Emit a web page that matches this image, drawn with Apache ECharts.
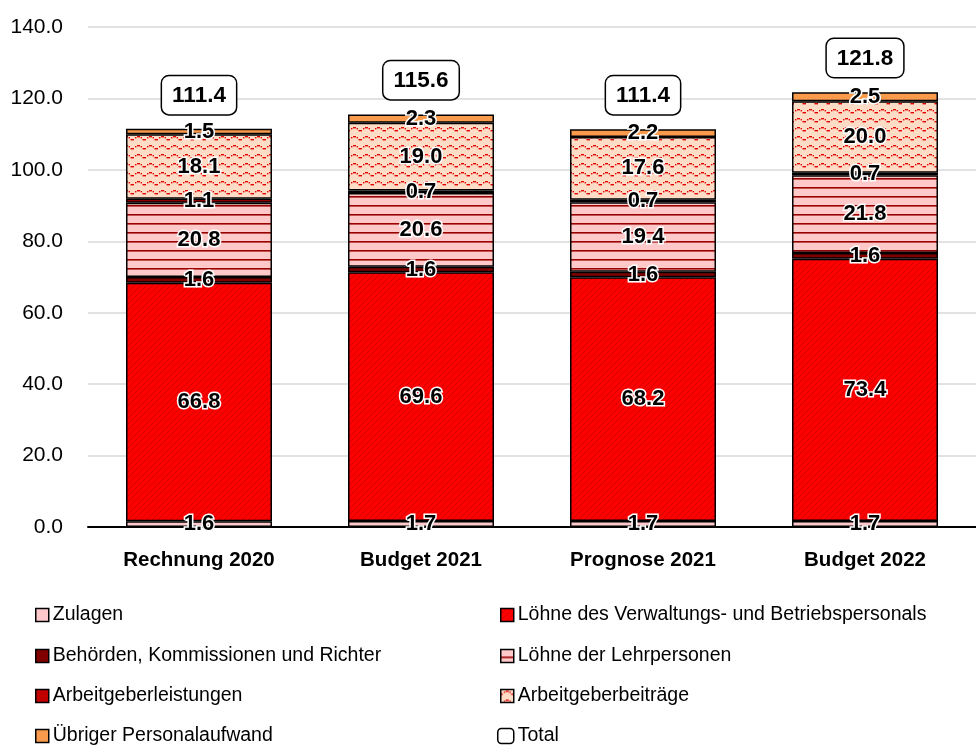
<!DOCTYPE html>
<html><head><meta charset="utf-8">
<script src="https://cdn.jsdelivr.net/npm/echarts@6.0.0/dist/echarts.min.js"></script>
<style>html,body{margin:0;padding:0;background:#fff}#c{width:976px;height:745px}</style>
</head><body><div id="c"></div>
<script>
const categories = ['Rechnung 2020', 'Budget 2021', 'Prognose 2021', 'Budget 2022'];
const yTicks = [0, 20, 40, 60, 80, 100, 120, 140];
const zulagen = [1.6, 1.7, 1.7, 1.7];
const loehneVB = [66.8, 69.6, 68.2, 73.4];
const behoerden = [1.6, 1.6, 1.6, 1.6];
const lehrpersonen = [20.8, 20.6, 19.4, 21.8];
const agLeistungen = [1.1, 0.7, 0.7, 0.7];
const agBeitraege = [18.1, 19.0, 17.6, 20.0];
const uebriger = [1.5, 2.3, 2.2, 2.5];
const total = [111.4, 115.6, 111.4, 121.8];
const legendLeft = ['Zulagen', 'Behörden, Kommissionen und Richter', 'Arbeitgeberleistungen', 'Übriger Personalaufwand'];
const legendRight = ['Löhne des Verwaltungs- und Betriebspersonals', 'Löhne der Lehrpersonen', 'Arbeitgeberbeiträge', 'Total'];

const FONT = "'Liberation Sans', Arial, sans-serif";

function tile(w, h, draw) {
  const c = document.createElement('canvas');
  c.width = w; c.height = h;
  draw(c.getContext('2d'));
  return { image: c, repeat: 'repeat' };
}
const hatch = tile(6, 6, g => {
  g.fillStyle = '#ff0000'; g.fillRect(0, 0, 6, 6);
  g.strokeStyle = '#d20000'; g.lineWidth = 1.0;
  g.beginPath();
  g.moveTo(-1, 7); g.lineTo(7, -1);
  g.moveTo(-1, 1); g.lineTo(1, -1);
  g.moveTo(5, 7); g.lineTo(7, 5);
  g.stroke();
});
const hlines = tile(8, 9, g => {
  g.fillStyle = '#ffc9c9'; g.fillRect(0, 0, 8, 9);
  g.fillStyle = '#990000'; g.fillRect(0, 7, 8, 1.6);
});
const waves = tile(12, 9, g => {
  g.fillStyle = '#ffdcc6'; g.fillRect(0, 0, 12, 9);
  g.fillStyle = '#e00000';
  g.fillRect(0, 4, 2, 1.4);
  g.fillRect(3, 2, 1.4, 1.4);
  g.fillRect(5, 1, 3, 1.4);
  g.fillRect(8.6, 2, 1.4, 1.4);
  g.fillRect(10.5, 4, 1.5, 1.4);
});

const labelStyle = {
  show: true, position: 'inside', fontFamily: FONT, fontWeight: 'bold', fontSize: 22,
  color: '#000', textBorderColor: '#fff', textBorderWidth: 3,
  formatter: p => p.value.toFixed(1)
};
function seg(name, data, color) {
  return {
    name, type: 'bar', stack: 'a', data, barWidth: 146, barGap: '-100%',
    itemStyle: { color, borderColor: '#000', borderWidth: 1.5 },
    label: labelStyle, emphasis: { disabled: true }
  };
}
const series = [
  seg('Zulagen', zulagen, '#ffc9cc'),
  seg('Löhne des Verwaltungs- und Betriebspersonals', loehneVB, hatch),
  seg('Behörden, Kommissionen und Richter', behoerden, '#800000'),
  seg('Löhne der Lehrpersonen', lehrpersonen, hlines),
  seg('Arbeitgeberleistungen', agLeistungen, '#c00000'),
  seg('Arbeitgeberbeiträge', agBeitraege, waves),
  seg('Übriger Personalaufwand', uebriger, '#f99a4c'),
  {
    name: 'Total', type: 'bar', data: total, barWidth: 146, barGap: '-100%', z: 1,
    itemStyle: { color: 'rgba(0,0,0,0)', borderWidth: 0 },
    emphasis: { disabled: true },
    label: {
      show: true, position: 'top', distance: 15, fontFamily: FONT, fontWeight: 'bold', fontSize: 22.5,
      color: '#000', backgroundColor: '#fff', borderColor: '#000', borderWidth: 1.5, borderRadius: 7,
      padding: [8, 10, 7, 10], formatter: p => p.value.toFixed(1)
    }
  }
];

const rowCenters = [613, 654, 694, 734];
function legendItem(name, left, row) {
  const isTotal = name === 'Total';
  const item = isTotal
    ? { name, icon: 'roundRect', itemStyle: { color: '#fff', borderColor: '#000', borderWidth: 1.5 } }
    : name;
  return {
    orient: 'horizontal', left, top: rowCenters[row] - 8, padding: 0,
    itemWidth: isTotal ? 16 : 13, itemHeight: isTotal ? 15 : 13, icon: 'rect',
    textStyle: { fontFamily: FONT, fontSize: 19.5, color: '#000', padding: [0, 0, 0, -1] },
    itemStyle: { borderColor: '#000', borderWidth: 1.5 }, selectedMode: false,
    data: [item]
  };
}
const legends = [];
legendLeft.forEach((n, i) => legends.push(legendItem(n, 35, i)));
legendRight.forEach((n, i) => legends.push(legendItem(n, n === 'Total' ? 497 : 500, i)));

const chart = echarts.init(document.getElementById('c'), null, { renderer: 'canvas' });
chart.setOption({
  animation: false,
  backgroundColor: '#fff',
  grid: { left: 88, top: 27, width: 905, height: 500, containLabel: false },
  xAxis: {
    type: 'category', data: categories,
    axisLine: { lineStyle: { color: '#000', width: 2 } }, axisTick: { show: false },
    axisLabel: { interval: 0, fontFamily: FONT, fontWeight: 'bold', fontSize: 20.5, color: '#000', margin: 23 }
  },
  yAxis: {
    type: 'value', min: yTicks[0], max: yTicks[yTicks.length - 1], interval: 20,
    axisLine: { show: false }, axisTick: { show: false },
    splitLine: { lineStyle: { color: '#d9d9d9', width: 1.5 } },
    axisLabel: { fontFamily: FONT, fontSize: 21, color: '#000', margin: 25, formatter: v => v.toFixed(1) }
  },
  legend: legends,
  series
});
</script></body></html>
